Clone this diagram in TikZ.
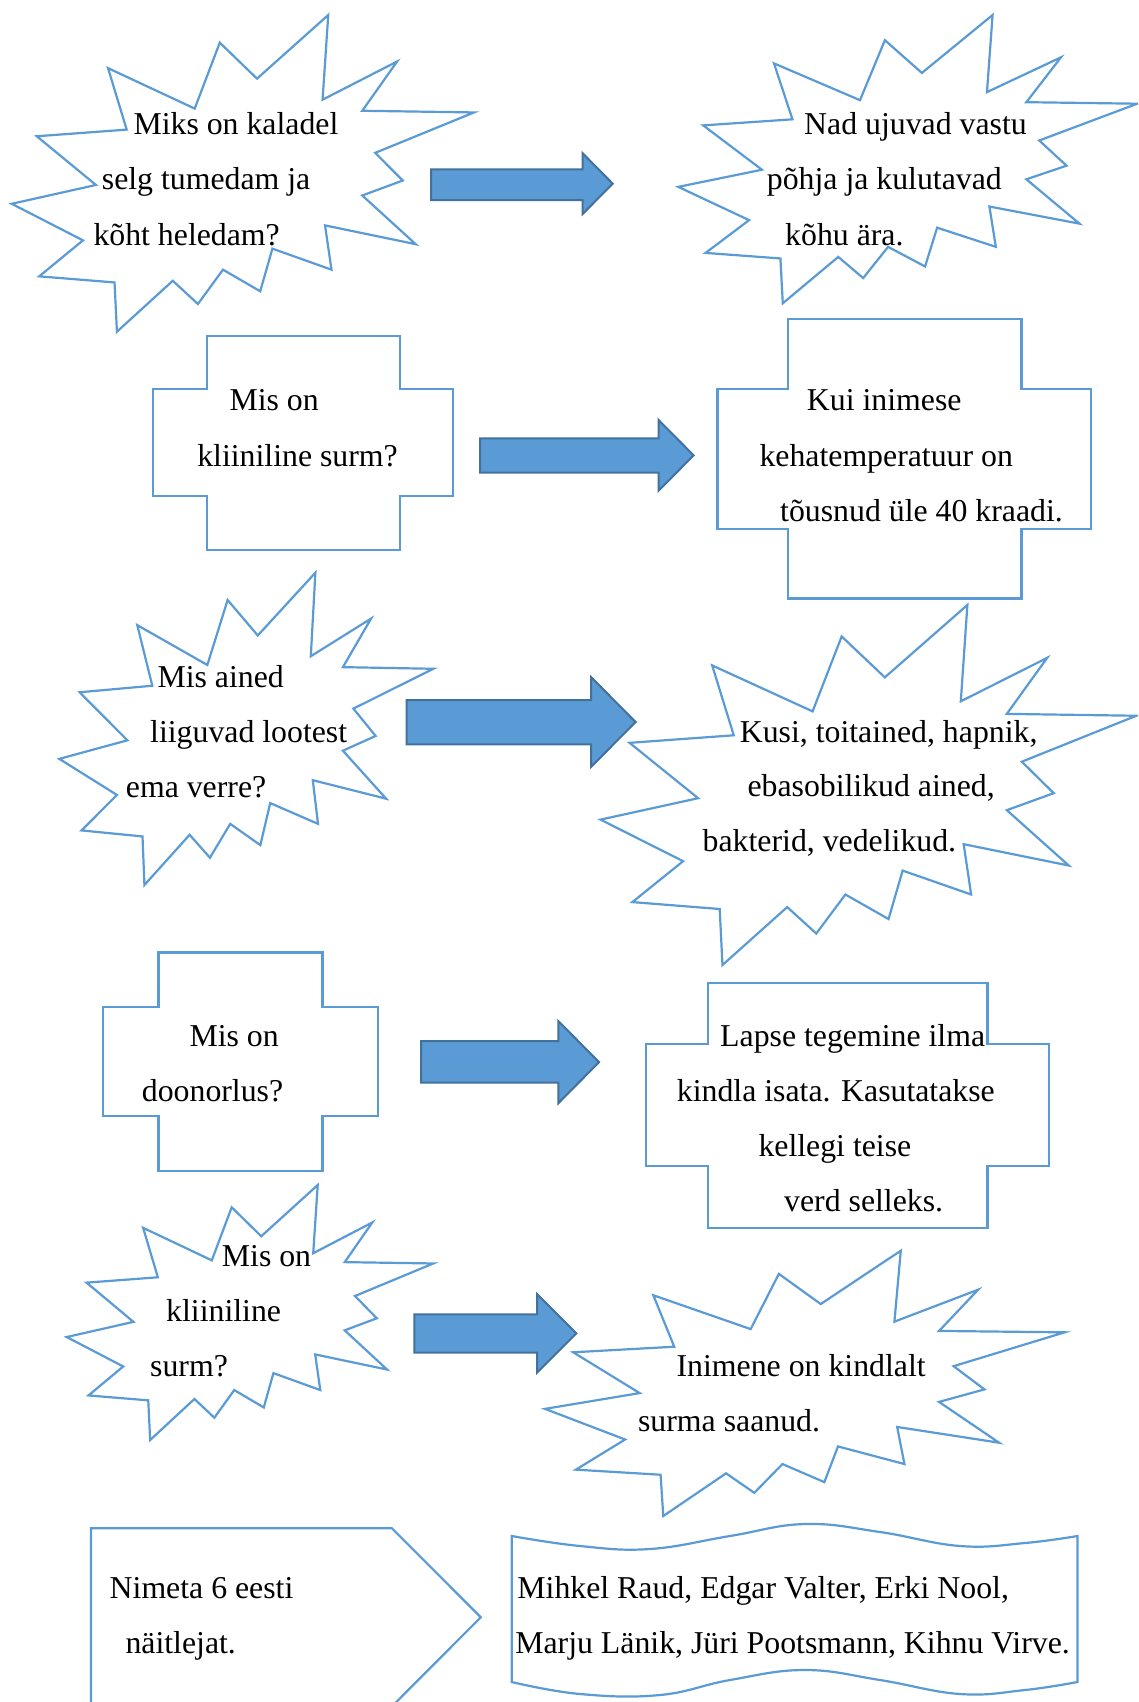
\documentclass[tikz,border=0pt]{standalone}
\usepackage{fontspec}
\setmainfont{Liberation Serif}
\definecolor{shapeblue}{HTML}{5B9BD5}
\definecolor{arrowedge}{HTML}{41719C}
\newcommand\boomshape[5]{% name, left, top, width, height
  \begin{scope}[shift={(#2,#3)}, xscale={#4/216}, yscale={#5/216}]
    \draw[shp] (114.62,43.42) -- (147.90,0) -- (145.25,57.77) -- (180.07,31.72)
      -- (163.80,65.32) -- (216,66.45) -- (169.85,94.02) -- (182.70,112.90)
      -- (163.80,123.10) -- (188.77,156.32) -- (146.40,143.50) -- (149.42,173.70)
      -- (121.80,159.35) -- (116.12,188.42) -- (98.72,173.70) -- (87.00,197.12)
      -- (75.27,181.25) -- (49.17,216) -- (48.05,182.40) -- (12.85,178.25)
      -- (33.30,153.70) -- (0,128.77) -- (39.35,115.92) -- (11.72,82.70)
      -- (53.72,78.17) -- (45.02,36.25) -- (85.50,63.82) -- (97.22,18.87) -- cycle;
    \coordinate (#1) at (108,108);
  \end{scope}}
\newcommand\plusshape[9]{% name, outerL, innerL, innerR, outerR, top, bandT, bandB, bottom
  \draw[shp] (#3,#6) -- (#4,#6) -- (#4,#7) -- (#5,#7) -- (#5,#8) -- (#4,#8)
    -- (#4,#9) -- (#3,#9) -- (#3,#8) -- (#2,#8) -- (#2,#7) -- (#3,#7) -- cycle;
  \coordinate (#1) at ({(#2+#5)/2},{(#6+#9)/2});}
\newcommand\blockarrow[8]{% name, x0, shaftT, shaftB, headX, headT, headB, tipX
  \draw[blk] (#2,#3) -- (#5,#3) -- (#5,#6) -- (#8,{(#6+#7)/2}) -- (#5,#7)
    -- (#5,#4) -- (#2,#4) -- cycle;
  \coordinate (#1) at (#8,{(#6+#7)/2});}
\begin{document}
\begin{tikzpicture}[x=1pt,y=-1pt,
  shp/.style={draw=shapeblue, fill=white, line width=2.2pt, line join=miter},
  blk/.style={fill=shapeblue, draw=arrowedge, line width=2pt},
  txt/.style={anchor=base west, inner sep=0pt, font=\fontsize{31.8}{55}\selectfont}]
\useasboundingbox (0,0) rectangle (1138,1702);
\clip (0,0) rectangle (1138,1702);
\fill[white] (0,0) rectangle (1138,1702);

% --- shapes ---
\boomshape{s1}{11.7}{15}{462.3}{316.7}
\boomshape{s2}{678.3}{15}{459}{288.3}
\boomshape{s3}{59.3}{572.7}{374}{312.3}
\boomshape{s4}{600.5}{605}{535.8}{360}
\boomshape{s5}{66.7}{1185}{366.6}{255}
\boomshape{s6}{545}{1250.7}{519.6}{265.3}

\plusshape{c1}{153.2}{207.3}{399.6}{453.2}{335.6}{389}{496.1}{550.3}
\plusshape{c2}{717.5}{788.3}{1021.4}{1091}{319.3}{389}{528.9}{598.5}
\plusshape{c3}{103.3}{158.4}{322.4}{377.6}{952.5}{1007.2}{1116.2}{1170.7}
\plusshape{c4}{646}{708.2}{987.4}{1048.6}{982.7}{1044.3}{1166.2}{1227.7}

\blockarrow{a1}{431}{169.3}{200}{582.7}{153.3}{214}{612.7}
\blockarrow{a2}{480}{438.3}{472.7}{658.6}{420}{490.7}{693.6}
\blockarrow{a3}{406.7}{700}{744.3}{591}{677}{767}{635.6}
\blockarrow{a4}{421}{1041}{1082.7}{558.3}{1021}{1103.3}{599}
\blockarrow{a5}{414.3}{1314.3}{1352.7}{537}{1294}{1372.7}{576.4}

% pentagon
\draw[shp] (90.9,1528.3) -- (392,1528.3) -- (480.8,1617.3) -- (392,1706.3)
  -- (90.9,1706.3) -- cycle;
\coordinate (p) at (280,1617.3);

% wave
\draw[shp] plot[smooth, tension=0.7] coordinates {(511.7,1536) (580,1546) (650,1549) (730,1536) (805,1524) (880,1532) (960,1546) (1025,1543) (1077.5,1536)}
  -- plot[smooth, tension=0.7] coordinates {(1077.5,1682) (1025,1690) (960,1694) (880,1680) (805,1670) (730,1680) (660,1695) (580,1694) (511.7,1682)}
  -- cycle;
\coordinate (w) at (794,1610);

% --- texts ---
\node[txt] (t1a) at (133.3,134) {Miks on kaladel};
\node[txt] (t1b) at (101.7,189.3) {selg tumedam ja};
\node[txt] (t1c) at (93.3,245) {kõht heledam?};

\node[txt] (t2a) at (804,134) {Nad ujuvad vastu};
\node[txt] (t2b) at (766.7,189.3) {põhja ja kulutavad};
\node[txt] (t2c) at (785,245) {kõhu ära.};

\node[txt] (t3a) at (229.3,410.7) {Mis on};
\node[txt] (t3b) at (197.1,466.7) {kliiniline surm?};

\node[txt] (t4a) at (806.7,410) {Kui inimese};
\node[txt] (t4b) at (759.3,466.7) {kehatemperatuur on};
\node[txt] (t4c) at (780,521.7) {tõusnud üle 40 kraadi.};

\node[txt] (t5a) at (157.3,687.3) {Mis ained};
\node[txt] (t5b) at (150,742.7) {liiguvad lootest};
\node[txt] (t5c) at (125.7,797.3) {ema verre?};

\node[txt] (t6a) at (739.6,742.7) {Kusi, toitained, hapnik,};
\node[txt] (t6b) at (747.3,796.7) {ebasobilikud ained,};
\node[txt] (t6c) at (702.5,851.7) {bakterid, vedelikud.};

\node[txt] (t7a) at (189.3,1046.7) {Mis on};
\node[txt] (t7b) at (141.7,1101.7) {doonorlus?};

\node[txt] (t8a) at (720,1046.7) {Lapse tegemine ilma};
\node[txt] (t8b) at (676.7,1101.7) {kindla isata. Kasutatakse};
\node[txt] (t8c) at (758.3,1156.7) {kellegi teise};
\node[txt] (t8d) at (784,1211.7) {verd selleks.};

\node[txt] (t9a) at (221.7,1266.7) {Mis on};
\node[txt] (t9b) at (166,1321.7) {kliiniline};
\node[txt] (t9c) at (150,1376.7) {surm?};

\node[txt] (t10a) at (676.4,1376.7) {Inimene on kindlalt};
\node[txt] (t10b) at (637.9,1431.7) {surma saanud.};

\node[txt] (t11a) at (109.5,1598.3) {Nimeta 6 eesti};
\node[txt] (t11b) at (125.3,1653.3) {näitlejat.};

\node[txt] (t12a) at (517.2,1598.3) {Mihkel Raud, Edgar Valter, Erki Nool,};
\node[txt] (t12b) at (515.1,1653.3) {Marju Länik, Jüri Pootsmann, Kihnu Virve.};
\end{tikzpicture}
\end{document}
